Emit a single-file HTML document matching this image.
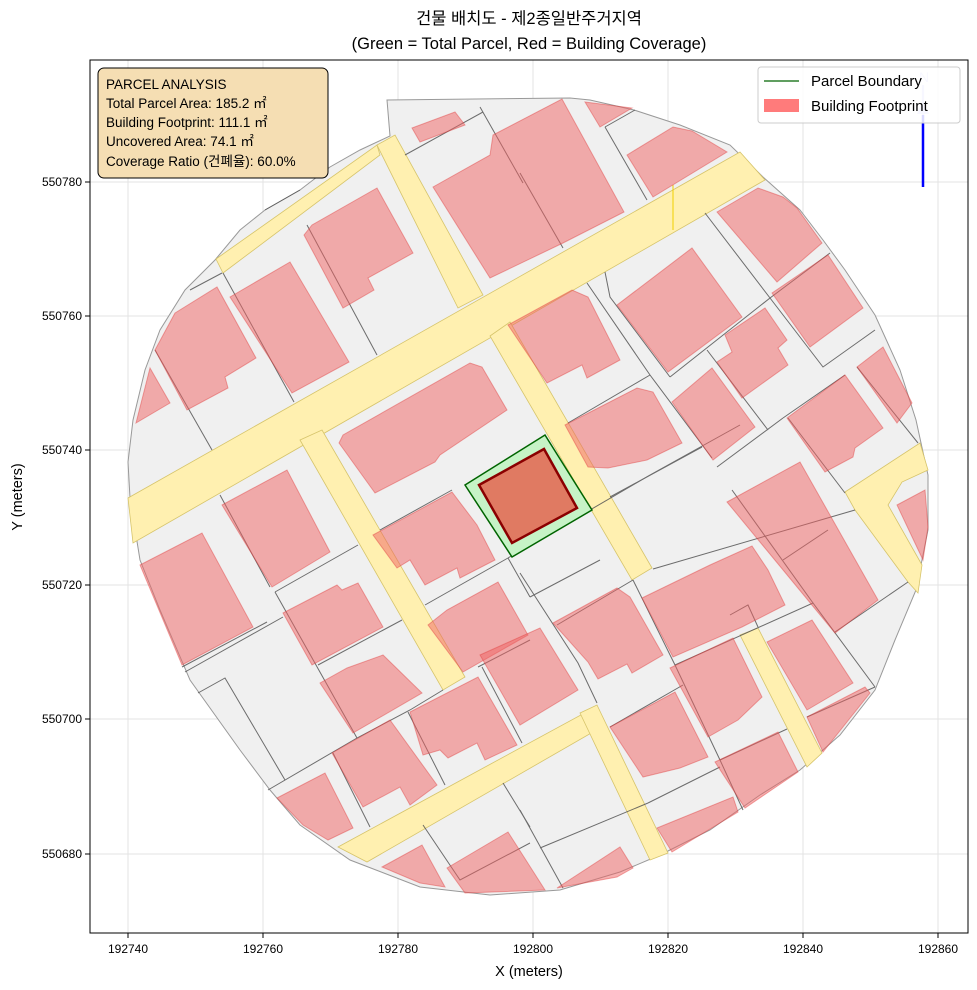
<!DOCTYPE html>
<html><head><meta charset="utf-8"><style>
html,body{margin:0;padding:0;background:#fff;}
svg{display:block;font-family:"Liberation Sans","Noto Sans CJK KR",sans-serif;}
</style></head><body>
<svg width="977" height="990" viewBox="0 0 977 990" xmlns="http://www.w3.org/2000/svg">
<rect width="977" height="990" fill="#fff"/>
<text x="529" y="24" font-size="16.5" text-anchor="middle" fill="#000">건물 배치도 - 제2종일반주거지역</text>
<text x="529" y="49" font-size="16.5" text-anchor="middle" fill="#000">(Green = Total Parcel, Red = Building Coverage)</text>
<g stroke="#e3e3e3" stroke-width="1">
<line x1="128" y1="60" x2="128" y2="933"/><line x1="263" y1="60" x2="263" y2="933"/><line x1="398" y1="60" x2="398" y2="933"/><line x1="533" y1="60" x2="533" y2="933"/><line x1="668" y1="60" x2="668" y2="933"/><line x1="803" y1="60" x2="803" y2="933"/><line x1="938" y1="60" x2="938" y2="933"/>
<line x1="90" y1="182" x2="968" y2="182"/><line x1="90" y1="316" x2="968" y2="316"/><line x1="90" y1="450" x2="968" y2="450"/><line x1="90" y1="585" x2="968" y2="585"/><line x1="90" y1="719" x2="968" y2="719"/><line x1="90" y1="854" x2="968" y2="854"/>
</g>
<polygon fill="#f0f0f0" stroke="#999" stroke-width="1" points="387,100 570,98 590,100 634,110 680,125 730,145 763,177 800,210 823,240 845,270 875,315 900,370 916,420 928,475 928,530 916,590 895,640 875,690 840,735 800,770 760,795 710,830 660,855 620,872 560,890 490,895 420,887 350,860 300,825 270,790 240,750 215,715 190,680 160,610 140,560 130,498 128,462 133,420 145,370 160,330 185,290 215,260 240,230 265,210 300,190 330,167 360,150 390,136"/>
<g fill="#fff0b0" stroke="#d6c46a" stroke-width="0.8">
<polygon points="128,498 740,152 765,180 133,543"/>
<polygon points="216,259 377,145 380,155 223,273"/>
<polygon points="377,145 395,135 483,295 458,308"/>
<polygon points="490,336 510,322 652,568 632,580"/>
<polygon points="300,440 322,430 465,677 443,690"/>
<polygon points="338,847 590,710 600,728 367,862"/>
<polygon points="580,713 597,705 668,853 650,860"/>
<polygon points="740,635 758,628 822,753 807,767"/>
<polygon points="845,492 920,443 928,470 902,482 888,505 922,565 918,593 908,582 855,510"/>
</g>
<line x1="673" y1="185" x2="673" y2="230" stroke="#f0d000" stroke-width="1"/>
<g stroke="#555" stroke-width="1" fill="none" opacity="0.85">
<polyline points="307,225 377,355"/><polyline points="223,273 294,402"/><polyline points="155,350 212,450"/><polyline points="190,290 222,273"/>
<polyline points="480,107 523,183"/><polyline points="405,155 483,112"/><polyline points="265,210 300,190"/>
<polyline points="605,127 635,110"/><polyline points="605,127 647,200"/><polyline points="520,173 563,248"/>
<polyline points="705,213 770,298 670,377"/><polyline points="605,272 610,297 670,377"/>
<polyline points="587,283 650,375 712,458"/><polyline points="650,375 568,423"/><polyline points="707,350 768,430"/>
<polyline points="770,298 830,253"/><polyline points="770,298 823,367 875,330"/><polyline points="857,367 918,443"/>
<polyline points="783,418 845,375"/><polyline points="788,418 845,493"/><polyline points="717,467 783,418"/><polyline points="610,497 702,447"/>
<polyline points="220,495 270,587"/><polyline points="275,592 358,545"/><polyline points="275,592 357,738"/>
<polyline points="318,665 402,620"/><polyline points="182,667 267,622"/><polyline points="185,672 283,617"/>
<polyline points="198,693 225,678 285,780"/><polyline points="268,790 357,738 410,710 443,690"/>
<polyline points="333,753 370,827"/><polyline points="408,712 445,785"/><polyline points="425,605 508,558"/>
<polyline points="380,530 452,490"/><polyline points="508,558 530,597"/><polyline points="478,667 530,640"/>
<polyline points="482,667 522,743"/><polyline points="423,825 460,880 530,843"/><polyline points="503,783 530,827"/>
<polyline points="520,573 578,663 597,703"/><polyline points="557,625 633,580"/><polyline points="633,580 675,665 720,760 743,810"/>
<polyline points="653,569 855,510"/><polyline points="675,665 813,603 875,687"/><polyline points="732,490 813,603"/>
<polyline points="783,560 828,530"/><polyline points="835,632 908,582"/><polyline points="730,615 748,605 758,627"/>
<polyline points="610,727 683,685"/><polyline points="720,760 787,729"/><polyline points="648,803 720,767"/>
<polyline points="540,848 648,803"/><polyline points="520,810 563,888"/><polyline points="807,717 875,687"/>
<polyline points="508,558 590,510 650,475 740,425"/><polyline points="530,597 600,560"/>
</g>
<g fill="#f06262" fill-opacity="0.5" stroke="#e04040" stroke-opacity="0.45" stroke-width="1">
<polygon points="412,128 455,112 465,125 420,142"/>
<polygon points="433,187 490,155 493,135 562,99 624,212 563,243 490,278"/>
<polygon points="304,235 312,225 377,188 413,253 368,278 374,290 343,308"/>
<polygon points="230,297 290,262 349,362 292,393"/>
<polygon points="175,313 217,287 256,358 225,377 228,388 187,410 155,350"/>
<polygon points="136,423 150,368 170,403"/>
<polygon points="339,443 343,435 470,363 482,367 507,410 440,455 435,462 375,493"/>
<polygon points="627,155 673,127 692,131 727,152 653,197"/>
<polygon points="585,102 632,108 600,127"/>
<polygon points="717,212 758,188 783,197 797,208 822,243 777,282"/>
<polygon points="617,305 692,248 742,317 668,372"/>
<polygon points="772,293 828,255 863,308 810,347"/>
<polygon points="725,335 765,308 787,340 778,348 788,365 742,398 717,362 732,352"/>
<polygon points="857,367 883,347 912,403 897,423"/>
<polygon points="787,418 845,375 883,428 855,448 853,457 825,472"/>
<polygon points="508,325 572,290 588,297 620,360 587,378 582,365 547,383"/>
<polygon points="565,425 637,388 653,392 682,443 647,460 608,468 588,467"/>
<polygon points="672,402 712,368 755,427 713,460"/>
<polygon points="140,565 202,533 253,627 182,665"/>
<polygon points="222,505 287,470 330,552 272,587"/>
<polygon points="283,613 337,585 342,590 358,583 383,627 312,665"/>
<polygon points="320,683 347,668 383,655 422,693 353,733"/>
<polygon points="373,535 452,492 477,525 495,560 460,578 457,568 425,585 410,560 397,568"/>
<polygon points="428,625 447,610 498,582 528,635 463,672"/>
<polygon points="332,753 390,720 437,785 410,805 400,787 363,807"/>
<polygon points="410,712 478,677 517,745 485,760 477,743 448,758 440,750 423,755"/>
<polygon points="277,798 325,773 353,828 328,840 303,825"/>
<polygon points="382,867 422,845 445,887 420,883"/>
<polygon points="447,868 508,832 545,890 465,893"/>
<polygon points="480,655 540,628 578,690 520,725"/>
<polygon points="642,598 710,565 752,546 768,570 785,605 742,627 673,657"/>
<polygon points="553,623 617,588 630,597 663,655 632,673 627,664 598,679 588,662"/>
<polygon points="727,502 800,462 878,600 835,633"/>
<polygon points="897,505 925,490 928,527 923,560"/>
<polygon points="670,668 733,638 762,697 738,720 708,737"/>
<polygon points="767,642 812,620 853,683 807,710"/>
<polygon points="610,727 675,692 708,757 680,768 643,777"/>
<polygon points="715,762 778,732 798,772 745,808"/>
<polygon points="807,717 865,687 870,693 823,752"/>
<polygon points="657,828 733,797 738,812 672,852"/>
<polygon points="557,888 620,847 633,868 617,877"/>
</g>
<polygon points="465,485 545,435 592,510 512,557" fill="#c6f3c6" stroke="#006400" stroke-width="1.5"/>
<polygon points="479,485 544,449 577,508 512,543" fill="#e07a62" stroke="#8b0000" stroke-width="2.5"/>
<line x1="923" y1="115" x2="923" y2="187" stroke="#0000ff" stroke-width="2.5"/>
<g opacity="0.2"><line x1="923" y1="85" x2="923" y2="115" stroke="#0000ff" stroke-width="2.5"/><polygon points="923,100 917,114 929,114" fill="#0000ff"/><text x="924" y="82" font-size="14" text-anchor="middle" fill="#0000ff">N</text></g>
<rect x="90" y="60" width="878" height="873" fill="none" stroke="#000" stroke-width="1"/>
<g stroke="#000" stroke-width="1">
<line x1="128" y1="933" x2="128" y2="938"/><line x1="263" y1="933" x2="263" y2="938"/><line x1="398" y1="933" x2="398" y2="938"/><line x1="533" y1="933" x2="533" y2="938"/><line x1="668" y1="933" x2="668" y2="938"/><line x1="803" y1="933" x2="803" y2="938"/><line x1="938" y1="933" x2="938" y2="938"/>
<line x1="85" y1="182" x2="90" y2="182"/><line x1="85" y1="316" x2="90" y2="316"/><line x1="85" y1="450" x2="90" y2="450"/><line x1="85" y1="585" x2="90" y2="585"/><line x1="85" y1="719" x2="90" y2="719"/><line x1="85" y1="854" x2="90" y2="854"/>
</g>
<g font-size="12" fill="#000" text-anchor="middle">
<text x="128" y="953">192740</text><text x="263" y="953">192760</text><text x="398" y="953">192780</text><text x="533" y="953">192800</text><text x="668" y="953">192820</text><text x="803" y="953">192840</text><text x="938" y="953">192860</text>
</g>
<g font-size="12" fill="#000" text-anchor="end">
<text x="82" y="186">550780</text><text x="82" y="320">550760</text><text x="82" y="454">550740</text><text x="82" y="589">550720</text><text x="82" y="723">550700</text><text x="82" y="858">550680</text>
</g>
<text x="529" y="976" font-size="14.5" text-anchor="middle">X (meters)</text>
<text transform="translate(22,497) rotate(-90)" font-size="14.5" text-anchor="middle">Y (meters)</text>
<rect x="98" y="68" width="230" height="110" rx="6" fill="#f5deb3" stroke="#000" stroke-width="1"/>
<g font-size="13.5" fill="#000">
<text x="106" y="89">PARCEL ANALYSIS</text>
<text x="106" y="108">Total Parcel Area: 185.2 ㎡</text>
<text x="106" y="127">Building Footprint: 111.1 ㎡</text>
<text x="106" y="146">Uncovered Area: 74.1 ㎡</text>
<text x="106" y="166">Coverage Ratio (건폐율): 60.0%</text>
</g>
<rect x="758" y="67" width="202" height="56" rx="3" fill="#fff" fill-opacity="0.85" stroke="#ccc"/>
<line x1="764" y1="81" x2="799" y2="81" stroke="#006400" stroke-width="1.2"/>
<rect x="764" y="99" width="35" height="13" fill="#ff7b7b"/>
<g font-size="15" fill="#000"><text x="811" y="86">Parcel Boundary</text><text x="811" y="111">Building Footprint</text></g>
</svg>
</body></html>
